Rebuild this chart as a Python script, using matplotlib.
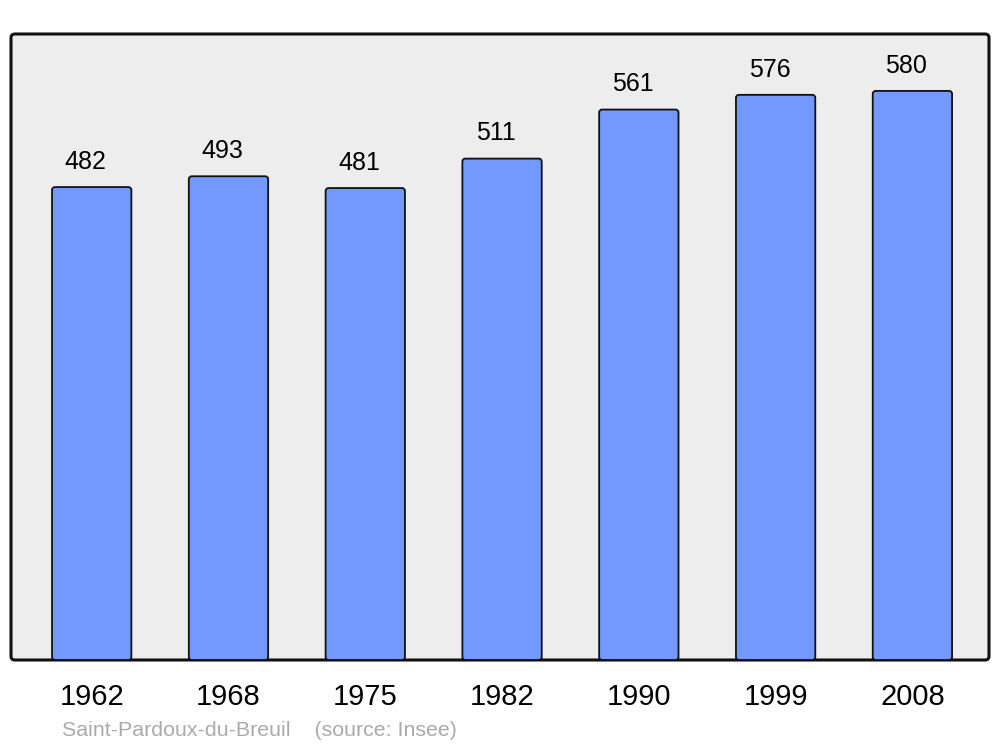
import matplotlib
matplotlib.use("Agg")
import matplotlib.pyplot as plt
from matplotlib.patches import FancyBboxPatch

years = ["1962", "1968", "1975", "1982", "1990", "1999", "2008"]
population = [482, 493, 481, 511, 561, 576, 580]
caption = "Saint-Pardoux-du-Breuil    (source: Insee)"

plt.rcParams['font.family'] = ['Liberation Sans', 'DejaVu Sans']

W, H = 1000, 747
fig = plt.figure(figsize=(W / 100, H / 100), dpi=100)
fig.patch.set_facecolor('white')
ax = fig.add_axes([11 / W, 1 - 660 / H, (989 - 11) / W, (660 - 34) / H])
ax.set_facecolor('none')

x = list(range(len(years)))
XL, XR = -0.59, 6.56
ax.set_xlim(XL, XR)
ax.set_ylim(0, 638)

# background frame with rounded corners
frame = FancyBboxPatch((0, 0), 1, 1, boxstyle="round,pad=0,rounding_size=0.004",
                       transform=ax.transAxes, facecolor='#ededed', edgecolor='#111111',
                       linewidth=2.2, zorder=0, clip_on=False, mutation_aspect=(978 / 626))
ax.add_patch(frame)

bars = ax.bar(x, population, width=0.58, color='none', edgecolor='none')
xpx = 978 / (XR - XL)
ypx = 626 / 638
aspect = xpx / ypx
for b in bars:
    fb = FancyBboxPatch((b.get_x(), b.get_y()), b.get_width(), b.get_height(),
                        boxstyle="round,pad=0,rounding_size=%f" % (3 / xpx),
                        mutation_aspect=aspect, facecolor='#7399ff',
                        edgecolor='#111111', linewidth=1.3, zorder=2)
    ax.add_patch(fb)

for xi, v in zip(x, population):
    ax.annotate(str(v), (xi, v), xytext=(-4.5, 9.5), textcoords='offset points',
                ha='center', va='bottom', fontsize=18, color='black')

for s in ax.spines.values():
    s.set_visible(False)
ax.set_xticks(x)
ax.set_xticklabels(years, fontsize=21)
ax.tick_params(axis='x', length=0, pad=16.5)
ax.set_yticks([])

fig.text(62 / W, 1 - 731 / H, caption, fontsize=15.4, color='#aaaaaa', ha='left', va='center')

fig.savefig('out.png', dpi=100)
